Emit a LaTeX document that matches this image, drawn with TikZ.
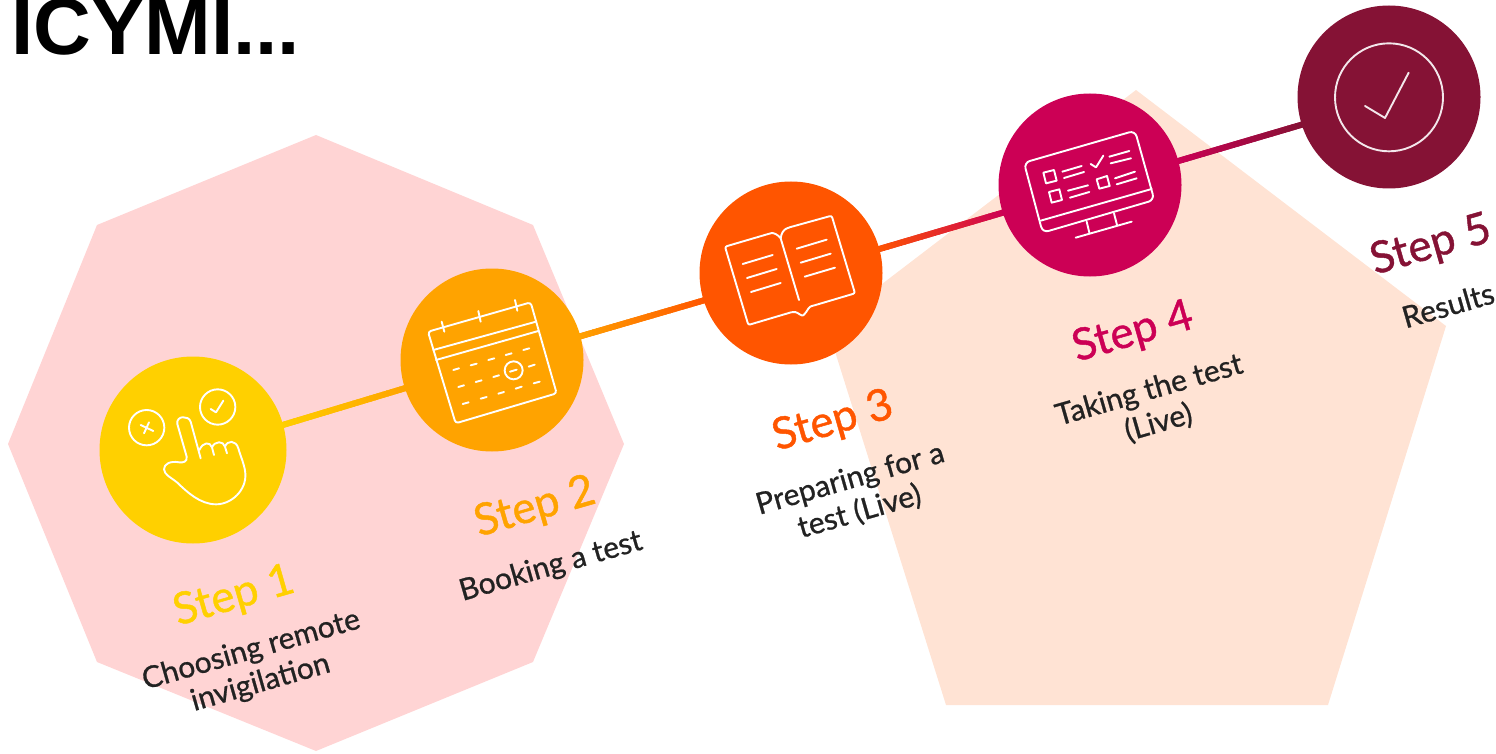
\documentclass[tikz,border=0pt]{standalone}
\usepackage{fontspec}
\setmainfont{Lato}
\newfontfamily\titlefont{Liberation Sans}
\newfontfamily\labfont{Lato}[FakeBold=1.0]
\newfontfamily\descfont{Lato}[FakeBold=0.8]
\usetikzlibrary{calc}
\definecolor{cone}{HTML}{FFD000}
\definecolor{ctwo}{HTML}{FFA300}
\definecolor{cthree}{HTML}{FF5500}
\definecolor{cfour}{HTML}{CC0055}
\definecolor{cfive}{HTML}{851235}
\definecolor{pinkbg}{HTML}{FFD4D4}
\definecolor{peachbg}{HTML}{FFE3D4}
\definecolor{ink}{HTML}{222222}
\pgfdeclarelayer{back}
\pgfsetlayers{back,main}
\tikzset{
  stepdot/.style={circle,minimum size=183pt,inner sep=0pt,draw=none},
  iconline/.style={draw=white,line width=1.9pt,line cap=round,line join=round},
  steplabel/.style={font=\labfont\fontsize{44}{48}\selectfont,rotate=16,inner sep=0pt},
  desclabel/.style={font=\descfont\fontsize{30}{34}\selectfont,text=ink,rotate=16,align=center,inner sep=0pt},
  linkline/.style={line width=6pt,line cap=butt}
}
\newcommand{\steplink}[4]{%
  \colorlet{linkmid}{#4!50!#3}%
  \draw[linkline,linkmid] ([yshift=-2pt]#1.center) -- ([yshift=-2pt]#2.center);
  \foreach \i in {0,...,30}{%
    \pgfmathsetmacro{\ta}{0.28+0.44*\i/31}%
    \pgfmathsetmacro{\tb}{0.28+0.44*(\i+1.2)/31}%
    \pgfmathsetmacro{\pct}{100*\i/30}%
    \colorlet{segcol}{#4!\pct!#3}%
    \draw[linkline,segcol] ($([yshift=-2pt]#1.center)!\ta!([yshift=-2pt]#2.center)$) -- ($([yshift=-2pt]#1.center)!\tb!([yshift=-2pt]#2.center)$);
  }%
}
\begin{document}
\begin{tikzpicture}[x=1pt,y=-1pt]
\useasboundingbox (0,0) rectangle (1496,754);
\begin{pgfonlayer}{back}
\fill[pinkbg] (316,135) -- (533,225) -- (624,444) -- (533,662) -- (316,751) -- (97,662) -- (8,444) -- (97,225) -- cycle;
\fill[peachbg] (1136,90) -- (1446,326) -- (1328,705) -- (946,705) -- (827,326) -- cycle;
\end{pgfonlayer}

\node[anchor=base west,inner sep=0pt,font=\titlefont\bfseries\fontsize{80}{84}\selectfont] (title) at (11,55) {ICYMI...};

\node[stepdot,minimum size=187pt,fill=cone] (s1) at (193,450) {};
\node[stepdot,fill=ctwo] (s2) at (492,360) {};
\node[stepdot,fill=cthree] (s3) at (791,273) {};
\node[stepdot,fill=cfour] (s4) at (1090,185) {};
\node[stepdot,fill=cfive] (s5) at (1389,97) {};

\begin{pgfonlayer}{back}
\steplink{s1}{s2}{cone}{ctwo}
\steplink{s2}{s3}{ctwo}{cthree}
\steplink{s3}{s4}{cthree}{cfour}
\steplink{s4}{s5}{cfour}{cfive}
\end{pgfonlayer}

% hand and calendar icons (reference crop units)
\begin{scope}[shift={(90,260)},x=0.33333pt,y=-0.33333pt]
\draw[iconline] (170,503) circle[radius=53pt*0.3333];
\draw[iconline] (383,441) circle[radius=53pt*0.3333];
\draw[iconline] (152,495) -- (190,513) (162,520) -- (177,487);
\draw[iconline] (362,447) -- (378,457) -- (400,422);
\draw[iconline] (332,595) -- (302,485) .. controls (296,466) and (258,466) .. (262,492) -- (290,590)
  .. controls (292,606) and (280,608) .. (268,607) .. controls (240,602) and (222,612) .. (222,628)
  .. controls (224,645) and (240,650) .. (262,668) .. controls (290,695) and (330,733) .. (378,733)
  .. controls (425,733) and (470,690) .. (466,640) .. controls (464,615) and (452,590) .. (445,565)
  .. controls (438,540) and (412,540) .. (405,560) -- (411,580);
\draw[iconline] (328,570) .. controls (340,545) and (360,545) .. (366,562) -- (372,585);
\draw[iconline] (366,562) .. controls (375,542) and (400,542) .. (405,560);
% calendar
\draw[iconline,rounded corners=3pt] (1014,215) -- (1322,127) -- (1400,400) -- (1097,490) -- cycle;
\draw[iconline] (1030,270) -- (1338,185) (1038,300) -- (1345,213);
\draw[iconline] (1055,185) -- (1063,215) (1165,153) -- (1172,185) (1275,120) -- (1282,152);
\draw[iconline] (1090,330) -- (1107,325) (1142,316) -- (1160,311) (1195,300) -- (1213,295) (1247,285) -- (1265,280) (1300,270) -- (1318,265);
\draw[iconline] (1105,381) -- (1122,376) (1157,366) -- (1175,361) (1210,351) -- (1227,346) (1260,335) -- (1280,329) (1316,320) -- (1334,314);
\draw[iconline] (1118,432) -- (1136,427) (1172,416) -- (1190,411) (1225,401) -- (1242,396) (1277,386) -- (1295,380) (1331,370) -- (1349,365);
\draw[iconline] (1271,331) circle[radius=27pt*0.3333];
\end{scope}

% book and monitor icons
\begin{scope}[shift={(690,90)},x=0.33333pt,y=-0.33333pt]
\draw[iconline,rounded corners=2pt] (272,445) .. controls (262,432) and (250,428) .. (238,431) -- (105,470) -- (175,705) -- (310,665)
  .. controls (325,668) and (335,680) .. (345,672) .. controls (352,660) and (358,650) .. (370,647) -- (495,610) -- (425,377) -- (295,413) .. controls (280,420) and (274,430) .. (272,445);
\draw[iconline] (272,445) -- (327,630);
\draw[iconline] (158,522) -- (248,495) (171,564) -- (260,537) (183,606) -- (272,579);
\draw[iconline] (320,476) -- (410,449) (332,518) -- (422,491) (344,560) -- (435,533);
% monitor
\draw[iconline,rounded corners=6pt] (1002,218) -- (1335,122) -- (1393,330) -- (1058,428) -- cycle;
\draw[iconline] (1052,392) -- (1385,297);
\draw[iconline] (1190,395) -- (1198,428) (1272,370) -- (1281,405) (1157,443) -- (1325,395);
\draw[iconline] (1060,248) -- (1092,240) -- (1100,272) -- (1068,280) -- cycle;
\draw[iconline] (1077,306) -- (1108,298) -- (1116,330) -- (1085,338) -- cycle;
\draw[iconline] (1220,268) -- (1251,258) -- (1259,288) -- (1228,296) -- cycle;
\draw[iconline] (1117,245) -- (1175,228) (1122,264) -- (1182,246) (1134,302) -- (1194,286) (1140,323) -- (1198,306);
\draw[iconline] (1202,222) -- (1218,232) -- (1240,197);
\draw[iconline] (1258,200) -- (1318,183) (1262,220) -- (1323,205) (1275,265) -- (1335,245) (1280,283) -- (1340,265);
\end{scope}

% tick icon
\begin{scope}[shift={(1290,0)},x=0.33333pt,y=-0.33333pt]
\draw[iconline,white!90!cfive] (297,292) circle[radius=162pt*0.3333];
\draw[iconline,white!90!cfive] (225,318) -- (285,354) -- (356,218);
\end{scope}

\node[steplabel,text=cone] (l1) at (234,597) {Step 1};
\node[steplabel,text=ctwo] (l2) at (535,508) {Step 2};
\node[steplabel,text=cthree] (l3) at (833,422) {Step 3};
\node[steplabel,text=cfour] (l4) at (1133,333) {Step 4};
\node[steplabel,text=cfive] (l5) at (1431,246) {Step 5};

\node[desclabel] (d1) at (256,667) {Choosing remote\\invigilation};
\node[desclabel] (d2) at (551,567) {Booking a test};
\node[desclabel] (d3) at (855,496) {Preparing for a\\test (Live)};
\node[desclabel] (d4) at (1154,407) {Taking the test\\(Live)};
\node[desclabel] (d5) at (1448,305) {Results};
\end{tikzpicture}
\end{document}
